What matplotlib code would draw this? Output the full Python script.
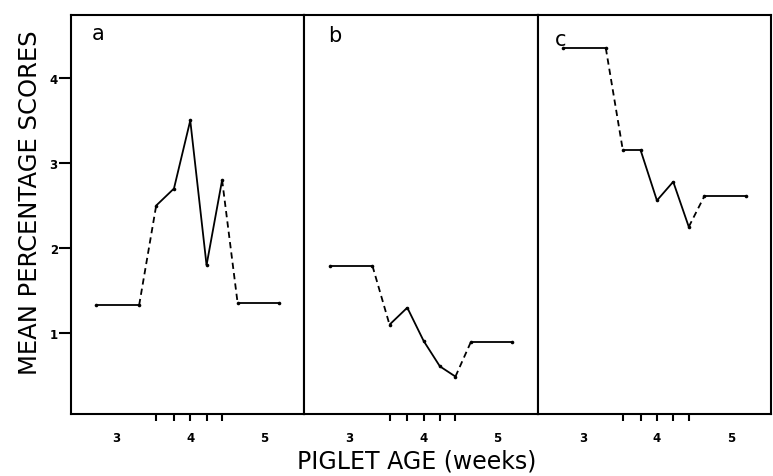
import matplotlib
matplotlib.use("Agg")
import matplotlib.pyplot as plt

# Piglet age in weeks at each observation
weeks = [2.73, 3.31, 3.54, 3.78, 4.0, 4.22, 4.43, 4.64, 5.20]

# Mean percentage scores for each panel
scores_a = [1.33, 1.33, 2.50, 2.70, 3.50, 1.80, 2.80, 1.35, 1.35]
scores_b = [1.79, 1.79, 1.10, 1.30, 0.91, 0.61, 0.49, 0.90, 0.90]
scores_c = [4.35, 4.35, 3.15, 3.15, 2.56, 2.78, 2.25, 2.61, 2.61]

panel_labels = ["a", "b", "c"]
week_labels = [3, 4, 5]
minor_weeks = [3.54, 3.78, 4.0, 4.22, 4.43]
score_ticks = [1, 2, 3, 4]

# segments (by starting index) drawn dashed
dashed_segments = {1, 6}

plt.rcParams["font.family"] = ["DejaVu Sans"]
plt.rcParams["lines.scale_dashes"] = False

fig = plt.figure(figsize=(7.73, 4.77), dpi=100)

left = 71 / 773
right = 771 / 773
bottom = 1 - 415 / 477
top = 1 - 16 / 477
w = (right - left) / 3

label_pos = [(0.09, 0.955), (0.10, 0.95), (0.075, 0.94)]

for i, (scores, lab) in enumerate(zip([scores_a, scores_b, scores_c], panel_labels)):
    ax = fig.add_axes([left + i * w, bottom, w, top - bottom])
    for k in range(len(weeks) - 1):
        ls = (0, (4.5, 3.0)) if k in dashed_segments else "-"
        ax.plot(weeks[k:k + 2], scores[k:k + 2], color="black", lw=1.3,
                linestyle=ls, solid_capstyle="butt")
    ax.plot(weeks, scores, "o", color="black", ms=2.6, mew=0)
    ax.set_xlim(2.39, 5.54)
    ax.set_ylim(0.05, 4.74)
    for s in ax.spines.values():
        s.set_linewidth(1.5)
    ax.xaxis.remove_overlapping_locs = False
    ax.set_xticks(week_labels)
    ax.set_xticklabels([str(v) for v in week_labels], fontsize=8.5,
                       fontweight="bold")
    ax.tick_params(axis="x", which="major", length=0, pad=12)
    ax.set_xticks(minor_weeks, minor=True)
    ax.tick_params(axis="x", which="minor", length=5, width=1.5,
                   direction="out")
    if i == 0:
        ax.set_yticks(score_ticks)
        ax.set_yticklabels([str(v) for v in score_ticks], fontsize=8.5,
                           fontweight="bold")
        ax.tick_params(axis="y", length=8.5, width=1.5, direction="out", pad=1)
    else:
        ax.set_yticks([])
    ax.text(label_pos[i][0], label_pos[i][1], lab, transform=ax.transAxes,
            fontsize=15, va="center", ha="left")

fig.text(30 / 773, 1 - 203 / 477, "MEAN PERCENTAGE SCORES", rotation=90,
         fontsize=17.5, ha="center", va="center")
fig.text(417 / 773, 1 - 462 / 477, "PIGLET AGE (weeks)",
         fontsize=17, ha="center", va="center")

fig.savefig("out.png", dpi=100)
